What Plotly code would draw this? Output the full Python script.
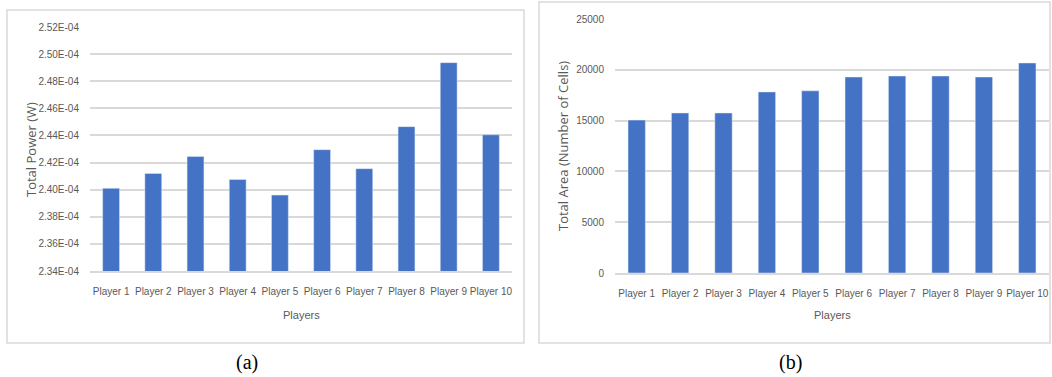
import plotly.graph_objects as go

players = ["Player 1", "Player 2", "Player 3", "Player 4", "Player 5",
           "Player 6", "Player 7", "Player 8", "Player 9", "Player 10"]
total_power = [2.401e-4, 2.412e-4, 2.4245e-4, 2.4075e-4, 2.3960e-4,
               2.4295e-4, 2.4155e-4, 2.4465e-4, 2.4937e-4, 2.4405e-4]
total_area = [15050, 15750, 15750, 17820, 17930, 19290, 19390, 19390, 19290, 20670]

power_ticks = [2.34e-4, 2.36e-4, 2.38e-4, 2.40e-4, 2.42e-4, 2.44e-4,
               2.46e-4, 2.48e-4, 2.50e-4, 2.52e-4]
power_ticktext = ["2.34E-04", "2.36E-04", "2.38E-04", "2.40E-04", "2.42E-04",
                  "2.44E-04", "2.46E-04", "2.48E-04", "2.50E-04", "2.52E-04"]
area_ticks = [0, 5000, 10000, 15000, 20000, 25000]
area_ticktext = ["0", "5000", "10000", "15000", "20000", "25000"]

W, H = 1052, 377
BAR = "#4472C4"
GRID = "#D9D9D9"
TXT = "#595959"
TICKFONT = dict(family="Liberation Sans, Arial, sans-serif", size=10, color=TXT)
TITLEFONT = dict(family="Open Sans, DejaVu Sans, sans-serif", size=13, color=TXT)

def px(x):
    return x / W

def py(y):
    return 1 - y / H

fig = go.Figure()
fig.add_trace(go.Bar(x=players, y=total_power, marker_color=BAR, xaxis="x", yaxis="y",
                     showlegend=False))
fig.add_trace(go.Bar(x=players, y=total_area, marker_color=BAR, xaxis="x2", yaxis="y2",
                     showlegend=False))

common_x = dict(showgrid=False, zeroline=False, showline=True, linecolor=GRID, linewidth=1.5,
                ticks="outside", ticklen=10, tickcolor="rgba(0,0,0,0)", tickfont=TICKFONT,
                tickangle=0, automargin=False, fixedrange=True)
common_y = dict(showgrid=True, gridcolor=GRID, gridwidth=1.5, zeroline=False, showline=False,
                ticks="outside", ticklen=8, tickcolor="rgba(0,0,0,0)", tickfont=TICKFONT,
                automargin=False, fixedrange=True)

def label(text, x, y, font, angle=0):
    return dict(text=text, xref="paper", yref="paper", x=px(x), y=py(y), showarrow=False,
                xanchor="center", yanchor="middle", textangle=angle, font=font)

fig.update_layout(
    width=W, height=H,
    margin=dict(l=0, r=0, t=0, b=0),
    paper_bgcolor="white", plot_bgcolor="white",
    bargap=0.6,
    xaxis=dict(domain=[px(90), px(512)], anchor="y", **common_x),
    yaxis=dict(domain=[py(271), py(27)], anchor="x", range=[2.34e-4, 2.52e-4],
               tickvals=power_ticks, ticktext=power_ticktext, **common_y),
    xaxis2=dict(domain=[px(615), px(1049)], anchor="y2", **common_x),
    yaxis2=dict(domain=[py(273), py(19)], anchor="x2", range=[0, 25000],
                tickvals=area_ticks, ticktext=area_ticktext, **common_y),
    shapes=[
        dict(type="rect", xref="paper", yref="paper", x0=px(7), x1=px(524), y0=py(343), y1=py(10),
             line=dict(color=GRID, width=1.5), fillcolor="rgba(0,0,0,0)", layer="below"),
        dict(type="rect", xref="paper", yref="paper", x0=px(539), x1=px(1050), y0=py(343), y1=py(2),
             line=dict(color=GRID, width=1.5), fillcolor="rgba(0,0,0,0)", layer="below"),
    ],
    annotations=[
        label("Total Power (W)", 31, 150, TITLEFONT, -90),
        label("Total Area (Number of Cells)", 563, 146, TITLEFONT, -90),
        label("Players", 301, 315, dict(TICKFONT, size=11)),
        label("Players", 832, 315, dict(TICKFONT, size=11)),
        label("(a)", 247, 362, dict(family="Liberation Serif, Times New Roman, serif", size=20, color="black")),
        label("(b)", 790, 362, dict(family="Liberation Serif, Times New Roman, serif", size=20, color="black")),
    ],
)

fig.write_html("out.html")
